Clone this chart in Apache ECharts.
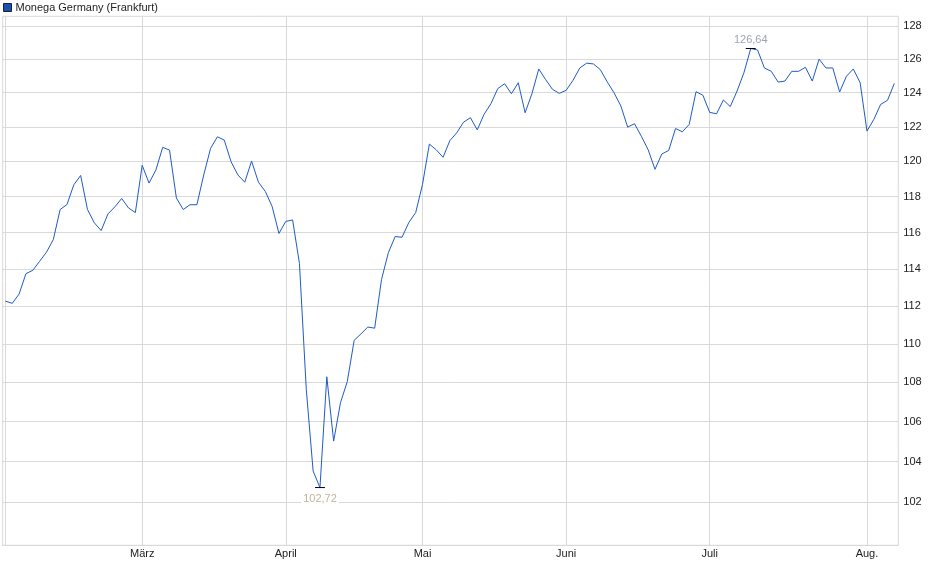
<!DOCTYPE html>
<html>
<head>
<meta charset="utf-8">
<script src="https://cdn.jsdelivr.net/npm/echarts@6/dist/echarts.min.js"></script>
<style>html,body{margin:0;padding:0;background:#fff}#c{width:940px;height:579px}</style>
</head>
<body>
<div id="c"></div>
<script>
var seriesName = 'Monega Germany (Frankfurt)';
var dates = [
'2025-02-03','2025-02-04','2025-02-05','2025-02-06','2025-02-07','2025-02-10','2025-02-11','2025-02-12','2025-02-13','2025-02-14',
'2025-02-17','2025-02-18','2025-02-19','2025-02-20','2025-02-21','2025-02-24','2025-02-25','2025-02-26','2025-02-27','2025-02-28',
'2025-03-03','2025-03-04','2025-03-05','2025-03-06','2025-03-07','2025-03-10','2025-03-11','2025-03-12','2025-03-13','2025-03-14',
'2025-03-17','2025-03-18','2025-03-19','2025-03-20','2025-03-21','2025-03-24','2025-03-25','2025-03-26','2025-03-27','2025-03-28','2025-03-31',
'2025-04-01','2025-04-02','2025-04-03','2025-04-04','2025-04-07','2025-04-08','2025-04-09','2025-04-10','2025-04-11',
'2025-04-14','2025-04-15','2025-04-16','2025-04-17','2025-04-22','2025-04-23','2025-04-24','2025-04-25','2025-04-28','2025-04-29','2025-04-30',
'2025-05-02','2025-05-05','2025-05-06','2025-05-07','2025-05-08','2025-05-09','2025-05-12','2025-05-13','2025-05-14','2025-05-15','2025-05-16',
'2025-05-19','2025-05-20','2025-05-21','2025-05-22','2025-05-23','2025-05-26','2025-05-27','2025-05-28','2025-05-29','2025-05-30',
'2025-06-02','2025-06-03','2025-06-04','2025-06-05','2025-06-06','2025-06-09','2025-06-10','2025-06-11','2025-06-12','2025-06-13',
'2025-06-16','2025-06-17','2025-06-18','2025-06-19','2025-06-20','2025-06-23','2025-06-24','2025-06-25','2025-06-26','2025-06-27','2025-06-30',
'2025-07-01','2025-07-02','2025-07-03','2025-07-04','2025-07-07','2025-07-08','2025-07-09','2025-07-10','2025-07-11',
'2025-07-14','2025-07-15','2025-07-16','2025-07-17','2025-07-18','2025-07-21','2025-07-22','2025-07-23','2025-07-24','2025-07-25',
'2025-07-28','2025-07-29','2025-07-30','2025-07-31',
'2025-08-01','2025-08-04','2025-08-05','2025-08-06','2025-08-07'
];
var prices = [
112.27,112.15,112.65,113.75,113.93,114.42,114.92,115.61,117.28,117.56,
118.67,119.20,117.28,116.54,116.11,117.04,117.43,117.90,117.37,117.11,
119.78,118.77,119.51,120.81,120.65,117.93,117.28,117.55,117.55,119.23,
120.75,121.42,121.23,119.98,119.23,118.82,120.02,118.82,118.30,117.46,115.95,
116.62,116.70,114.30,107.64,103.53,102.72,108.29,105.02,106.96,
108.05,110.19,110.53,110.89,110.83,113.43,114.89,115.78,115.74,116.56,117.11,
118.70,121.00,120.67,120.24,121.20,121.65,122.27,122.53,121.82,122.73,123.35,
124.24,124.53,123.94,124.59,122.82,123.94,125.41,124.78,124.20,123.96,
124.14,124.73,125.47,125.76,125.71,125.37,124.65,124.00,123.22,121.98,
122.18,121.45,120.67,119.55,120.43,120.63,121.90,121.71,122.14,124.06,123.85,
122.84,122.76,123.57,123.18,124.10,125.18,126.64,126.55,125.47,
125.27,124.63,124.69,125.27,125.27,125.51,124.69,126.00,125.47,125.47,
124.04,124.98,125.41,124.59,
121.75,122.43,123.31,123.55,124.55
];
var yTicks = [102,104,106,108,110,112,114,116,118,120,122,124,126,128];
var monthNames = ['Jan.','Feb.','März','April','Mai','Juni','Juli','Aug.','Sept.','Okt.','Nov.','Dez.'];

var monthOf = function (d) { return parseInt(d.slice(5, 7), 10); };
var monthStarts = [];
for (var i = 1; i < dates.length; i++) {
  if (monthOf(dates[i]) !== monthOf(dates[i - 1])) monthStarts.push(i);
}
var gridXs = [0].concat(monthStarts);
var seriesData = prices.map(function (v, i) { return [i, v]; });
var fmt = function (v) { return v.toFixed(2).replace('.', ','); };
var FONT = '"Liberation Sans", Arial, sans-serif';
var GRID = '#d9d9d9';

var chart = echarts.init(document.getElementById('c'), null, { renderer: 'canvas' });
chart.setOption({
  animation: false,
  backgroundColor: '#fff',
  textStyle: { fontFamily: FONT },
  legend: {
    left: 3, top: 2, padding: 0,
    icon: 'rect', itemWidth: 8, itemHeight: 8,
    textStyle: { fontSize: 11, color: '#222', fontFamily: FONT, padding: [1, 0, 0, -1] },
    itemStyle: { borderColor: '#222', borderWidth: 1 },
    data: [seriesName]
  },
  grid: {
    left: 2.7, right: 940 - 898.3, top: 16.3, bottom: 579 - 545.3,
    show: true, borderColor: GRID, borderWidth: 1, containLabel: false
  },
  xAxis: {
    type: 'value',
    min: -0.4, max: 130.58,
    axisLine: { show: true, lineStyle: { color: GRID } },
    axisTick: { show: false, customValues: gridXs },
    axisLabel: {
      customValues: monthStarts,
      fontSize: 11, color: '#222', fontFamily: FONT, margin: 3,
      formatter: function (v) { return monthNames[monthOf(dates[Math.round(v)]) - 1]; }
    },
    splitLine: { show: true, lineStyle: { color: GRID, width: 1 } }
  },
  yAxis: {
    type: 'log', logBase: 10,
    position: 'right',
    min: 99.93, max: 128.6,
    axisLine: { show: false },
    axisTick: { show: true, length: 4, lineStyle: { color: GRID }, customValues: yTicks },
    axisLabel: {
      customValues: yTicks,
      fontSize: 11, color: '#222', fontFamily: FONT, margin: 5,
      formatter: function (v) { return String(Math.round(v)); }
    },
    splitLine: { show: true, lineStyle: { color: GRID, width: 1 } }
  },
  series: [{
    name: seriesName,
    type: 'line',
    data: seriesData,
    showSymbol: false,
    symbol: 'none',
    color: '#1f5bc6',
    lineStyle: { color: '#1f5bc6', width: 1 },
    itemStyle: { color: '#1a4fb5', borderColor: '#222', borderWidth: 1 },
    markPoint: {
      symbol: 'rect',
      symbolSize: [10, 1],
      itemStyle: { color: '#000', borderWidth: 0 },
      data: [
        { type: 'min', label: { position: 'bottom', distance: 5, color: '#c2b49a' } },
        { type: 'max', label: { position: 'top', distance: 3, color: '#9ea3b6' } }
      ],
      label: {
        show: true, fontSize: 11, fontFamily: FONT,
        backgroundColor: '#fff', padding: [0, 2],
        formatter: function (p) { return fmt(p.value); }
      }
    }
  }]
});
</script>
</body>
</html>
